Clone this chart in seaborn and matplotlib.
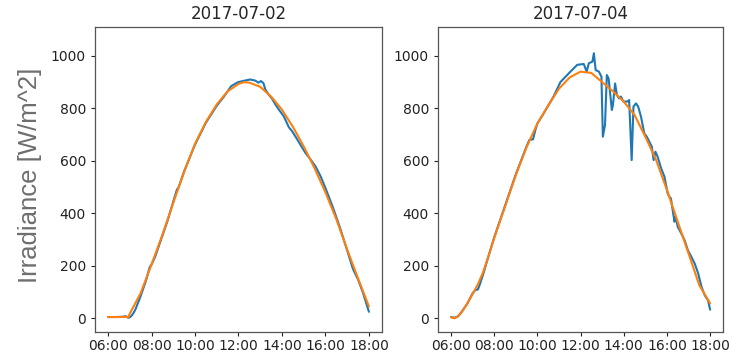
import matplotlib
matplotlib.use("Agg")
import matplotlib.pyplot as plt
import matplotlib.dates as mdates
import pandas as pd
import seaborn as sns

# ---------------- data ----------------
titles = ["2017-07-02", "2017-07-04"]
ylabel = "Irradiance [W/m^2]"
xtick_hours = [6, 8, 10, 12, 14, 16, 18]
ytick_values = [0, 200, 400, 600, 800, 1000]

# 2017-07-02 measured (blue)
t_meas_0702 = ["06:00", "06:20", "06:40", "06:48", "06:53", "06:56", "07:00", "07:05", "07:10",
               "07:15", "07:30", "07:45", "07:55", "08:00", "08:10", "08:30", "08:45", "09:00",
               "09:10", "09:15", "09:30", "10:00", "10:30", "11:00", "11:20", "11:40", "11:59",
               "12:18", "12:32", "12:46", "12:55", "13:02", "13:09", "13:14", "13:23", "13:32",
               "13:42", "13:51", "14:05", "14:19", "14:28", "14:42", "14:56", "15:05", "15:19",
               "15:33", "15:47", "16:01", "16:20", "16:39", "16:57", "17:16", "17:30", "17:44",
               "18:00"]
v_meas_0702 = [5, 5, 6, 8, 6, 2, 4, 10, 20,
               32, 85, 145, 195, 205, 235, 315, 375, 445,
               490, 500, 560, 662, 745, 810, 845, 885, 900,
               906, 910, 906, 898, 904, 896, 872, 853, 838,
               815, 796, 770, 728, 713, 682, 650, 630, 605,
               578, 540, 493, 425, 350, 272, 188, 148, 96,
               25]

# 2017-07-02 model (orange)
t_model_0702 = ["06:00", "06:30", "06:50", "06:56", "07:00", "07:05", "07:30", "08:00", "08:30",
                "09:00", "09:30", "10:00", "10:30", "11:00", "11:30", "12:00", "12:15", "12:30",
                "13:00", "13:30", "14:00", "14:30", "15:00", "15:30", "16:00", "16:30", "17:00",
                "17:30", "18:00"]
v_model_0702 = [5, 5, 6, 3, 18, 31, 96, 205, 318,
                440, 558, 665, 748, 815, 865, 893, 900, 898,
                882, 845, 795, 730, 655, 572, 480, 378, 262,
                152, 45]

# 2017-07-04 measured (blue)
t_meas_0704 = ["06:00", "06:10", "06:20", "06:30", "06:45", "07:00", "07:08", "07:15", "07:20",
               "07:30", "07:45", "08:00", "08:30", "09:00", "09:30", "09:38", "09:48", "09:55",
               "10:00", "10:15", "10:30", "10:45", "11:04", "11:32", "11:51", "12:09", "12:17",
               "12:23", "12:33", "12:37", "12:42", "12:51", "12:58", "13:02", "13:08", "13:13",
               "13:18", "13:27", "13:30", "13:36", "13:41", "13:47", "13:52", "13:59", "14:11",
               "14:15", "14:22", "14:27", "14:34", "14:40", "14:48", "14:57", "15:04", "15:11",
               "15:18", "15:23", "15:28", "15:34", "15:44", "15:53", "16:02", "16:07", "16:11",
               "16:16", "16:21", "16:24", "16:30", "16:40", "16:49", "16:58", "17:08", "17:17",
               "17:27", "17:36", "17:45", "17:54", "18:00"]
v_meas_0704 = [5, 2, 8, 25, 55, 95, 108, 110, 128,
               170, 240, 308, 428, 548, 655, 680, 682, 720,
               742, 775, 810, 845, 900, 940, 966, 969, 940,
               972, 978, 1010, 946, 940, 921, 692, 737, 927,
               914, 794, 813, 895, 851, 838, 845, 826, 826,
               832, 603, 807, 819, 807, 768, 705, 692, 673,
               654, 603, 635, 616, 571, 540, 476, 463, 457,
               412, 368, 387, 349, 323, 298, 260, 234, 209,
               170, 120, 88, 69, 33]

# 2017-07-04 model (orange)
t_model_0704 = ["06:00", "06:10", "06:20", "06:30", "06:45", "07:00", "07:15", "07:30", "07:45",
                "08:00", "08:30", "09:00", "09:30", "10:00", "10:30", "11:00", "11:30", "12:00",
                "12:30", "13:00", "13:30", "14:00", "14:30", "15:00", "15:30", "16:00", "16:30",
                "17:00", "17:30", "18:00"]
v_model_0704 = [4, 0, 8, 24, 55, 92, 130, 178, 240,
                305, 425, 545, 652, 742, 810, 875, 918, 940,
                935, 900, 865, 826, 775, 692, 603, 489, 368,
                247, 126, 57]

# ---------------- plotting ----------------
sns.set_style("white")
plt.rcParams["font.family"] = ["DejaVu Sans"]

BLUE = "#1f77b4"
ORANGE = "#ff7f0e"

def to_dt(day, times):
    return pd.to_datetime([f"{day} {t}" for t in times])

fig = plt.figure(figsize=(7.33, 3.53), dpi=100)
ax_positions = [[0.1296, 0.0595, 0.3915, 0.864], [0.5975, 0.0595, 0.389, 0.864]]

panels = [
    (titles[0], t_meas_0702, v_meas_0702, t_model_0702, v_model_0702),
    (titles[1], t_meas_0704, v_meas_0704, t_model_0704, v_model_0704),
]

for pos, (day, tm, vm, tf, vf) in zip(ax_positions, panels):
    ax = fig.add_axes(pos)
    df_m = pd.DataFrame({"time": to_dt(day, tm), "irr": vm})
    df_f = pd.DataFrame({"time": to_dt(day, tf), "irr": vf})
    sns.lineplot(data=df_m, x="time", y="irr", ax=ax, color=BLUE, linewidth=1.5)
    sns.lineplot(data=df_f, x="time", y="irr", ax=ax, color=ORANGE, linewidth=1.5)
    ax.set_ylim(-52, 1110)
    ax.set_yticks(ytick_values)
    xt = pd.to_datetime([f"{day} {h:02d}:00" for h in xtick_hours])
    ax.set_xticks(xt)
    ax.xaxis.set_major_formatter(mdates.DateFormatter("%H:%M"))
    ax.set_xlabel("")
    ax.set_ylabel("")
    ax.set_title(day, fontsize=12, pad=6)
    ax.tick_params(axis="both", labelsize=10, length=3, width=0.8, colors="#222222",
                   direction="out", bottom=True, left=True)
    ax.tick_params(axis="x", pad=2)
    for sp in ax.spines.values():
        sp.set_color("#555555")
        sp.set_linewidth(0.9)

fig.text(0.041, 0.503, ylabel, rotation=90, ha="center", va="center",
         fontsize=18.5, color="#6e6e6e",
         family=["Liberation Sans", "DejaVu Sans"])

fig.savefig("out.png", dpi=100)
